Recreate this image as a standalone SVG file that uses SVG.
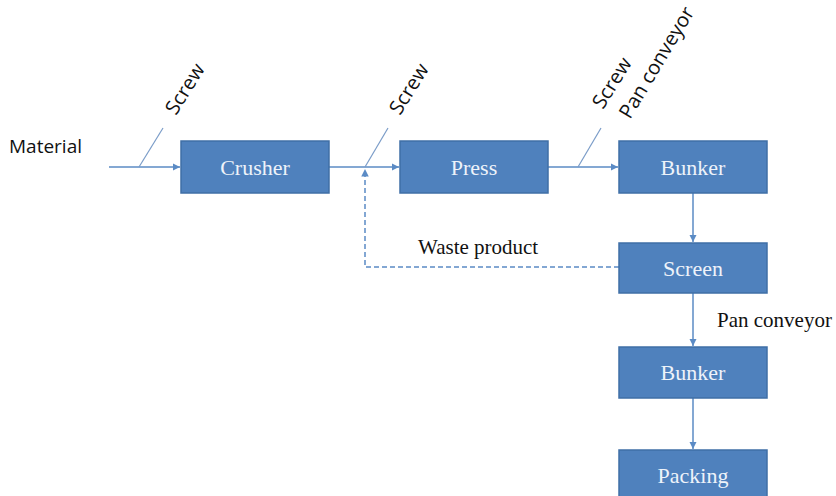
<svg xmlns="http://www.w3.org/2000/svg" width="836" height="496" viewBox="0 0 836 496">
<style>
.box{fill:#4F81BD;stroke:#3F6FA6;stroke-width:1.5}
.bt{font-family:"Liberation Serif",serif;font-size:22px;fill:#EEF3FA;text-anchor:middle}
.ln{stroke:#5B8BC5;stroke-width:1.5;fill:none}
.sl{stroke:#7A9CC8;stroke-width:1.2;fill:none}
.dash{stroke:#5B8BC5;stroke-width:1.5;fill:none;stroke-dasharray:5,3}
.sans{font-family:"Open Sans",sans-serif;font-size:19px;fill:#111}
.rot{font-family:"Open Sans",sans-serif;font-size:20px;fill:#111}
.ser{font-family:"Liberation Serif",serif;font-size:21px;fill:#111}
</style>
<defs>
<marker id="ah" viewBox="0 0 10 10" refX="10" refY="5" markerWidth="5" markerHeight="5" orient="auto">
<path d="M0,0 L10,5 L0,10 z" fill="#5B8BC5"/>
</marker>
</defs>
<rect width="836" height="496" fill="#fff"/>
<g id="connectors">
<line class="ln" x1="109" y1="167" x2="180" y2="167" marker-end="url(#ah)"/>
<line class="sl" x1="139" y1="167" x2="163" y2="128"/>
<line class="ln" x1="329" y1="167" x2="399" y2="167" marker-end="url(#ah)"/>
<line class="sl" x1="365" y1="167" x2="388" y2="128"/>
<line class="ln" x1="548" y1="167" x2="618" y2="167" marker-end="url(#ah)"/>
<line class="sl" x1="578" y1="167" x2="601" y2="128"/>
<polyline class="dash" points="619,267 365,267 365,169" marker-end="url(#ah)"/>
<line class="ln" x1="693" y1="193" x2="693" y2="242" marker-end="url(#ah)"/>
<line class="ln" x1="693" y1="293" x2="693" y2="346" marker-end="url(#ah)"/>
<line class="ln" x1="693" y1="398" x2="693" y2="449" marker-end="url(#ah)"/>
</g>
<g id="labels">
<text class="sans" x="9" y="153">Material</text>
<text class="rot" transform="translate(176,116) rotate(-58)">Screw</text>
<text class="rot" transform="translate(400,116) rotate(-58)">Screw</text>
<text class="rot" transform="translate(603,110) rotate(-58)">Screw</text>
<text class="rot" transform="translate(630,120) rotate(-59)">Pan conveyor</text>
<text class="ser" x="418" y="254">Waste product</text>
<text class="ser" x="717" y="327">Pan conveyor</text>
</g>
<g id="crusher"><rect class="box" x="181" y="141" width="148" height="52"/><text class="bt" x="255" y="175">Crusher</text></g>
<g id="press"><rect class="box" x="400" y="141" width="148" height="52"/><text class="bt" x="474" y="175">Press</text></g>
<g id="bunker1"><rect class="box" x="619" y="141" width="148" height="52"/><text class="bt" x="693" y="175">Bunker</text></g>
<g id="screen"><rect class="box" x="619" y="243" width="148" height="50"/><text class="bt" x="693" y="276">Screen</text></g>
<g id="bunker2"><rect class="box" x="619" y="347" width="148" height="51"/><text class="bt" x="693" y="380">Bunker</text></g>
<g id="packing"><rect class="box" x="619" y="450" width="148" height="52"/><text class="bt" x="693" y="483">Packing</text></g>
</svg>
